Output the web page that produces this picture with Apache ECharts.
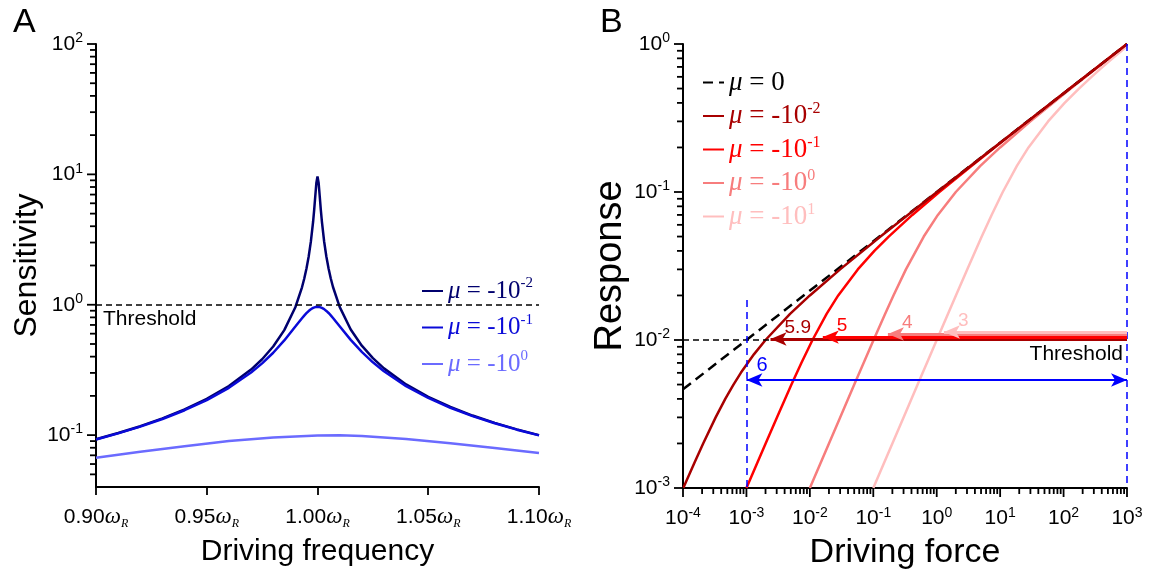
<!DOCTYPE html>
<html><head><meta charset="utf-8">
<script src="https://cdn.jsdelivr.net/npm/echarts@6/dist/echarts.min.js"></script>
<style>html,body{margin:0;padding:0;background:#fff}#c{width:1150px;height:575px}</style>
</head><body><div id="c"></div>
<script>
// ---------- Panel A data ----------
const freqA = [0.90,0.91,0.92,0.93,0.94,0.95,0.96,0.97,0.975,0.98,0.985,0.99,0.993,0.994,0.995,0.996,0.997,0.998,0.9985,0.999,0.9995,1.000,1.0005,1.001,1.0015,1.002,1.003,1.004,1.005,1.006,1.007,1.01,1.015,1.02,1.025,1.03,1.04,1.05,1.06,1.07,1.08,1.09,1.10];
const sensMuA2 = [0.0930,0.1037,0.1171,0.1343,0.1573,0.1895,0.2377,0.3180,0.3821,0.4784,0.6386,0.9567,1.361,1.584,1.889,2.336,3.049,4.311,5.35,6.824,8.63,9.65,8.63,6.824,5.35,4.316,3.055,2.343,1.896,1.59,1.368,0.9637,0.6453,0.4854,0.3893,0.3250,0.2447,0.1965,0.1643,0.1413,0.1241,0.1107,0.1000];
const sensMuA1 = [0.0925,0.1031,0.1162,0.1330,0.1552,0.1858,0.2307,0.3018,0.3550,0.4284,0.5325,0.6799,0.7885,0.8259,0.8614,0.8951,0.9234,0.9453,0.9533,0.9602,0.9638,0.9650,0.9638,0.9602,0.9543,0.9458,0.9253,0.8969,0.8649,0.8293,0.7920,0.6849,0.5380,0.4347,0.3617,0.3085,0.2374,0.1927,0.1621,0.1399,0.1232,0.1101,0.0995];
const freqA0 = [0.90,0.92,0.94,0.96,0.98,1.00,1.01,1.02,1.04,1.06,1.08,1.10];
const sensMuA0 = [0.0670,0.0745,0.0822,0.0900,0.0960,0.0993,0.0998,0.0985,0.0935,0.0868,0.0797,0.0728];
const thresholdA = 1;
const freqTicksA = [0.90,0.95,1.00,1.05,1.10];
const sensMajorTicksA = [0.1,1,10,100];
const sensMinorTicksA = [0.05,0.06,0.07,0.08,0.09,0.2,0.3,0.4,0.5,0.6,0.7,0.8,0.9,2,3,4,5,6,7,8,9,20,30,40,50,60,70,80,90];

// ---------- Panel B data ----------
const forceMu0 = [0.0001, 1000];
const respMu0  = [0.004642, 1];
const forceMuB2 = [0.000101,0.0001534,0.000208,0.000327,0.000464,0.000625,0.000816,0.001312,0.002,0.004875,0.01,0.03,0.13,1.01,8.02,125,1000];
const respMuB2  = [0.001,0.0015,0.002,0.003,0.004,0.005,0.006,0.008,0.01,0.015,0.02,0.03,0.05,0.1,0.2,0.5,1.0];
const forceMuB1 = [0.001001,0.001503,0.002008,0.003027,0.005125,0.007343,0.011,0.01838,0.028,0.057,0.104,0.175,0.413,1.1,3.525,8.2,27.3,125.5,343.7,1000];
const respMuB1  = [0.001,0.0015,0.002,0.003,0.005,0.007,0.01,0.015,0.02,0.03,0.04,0.05,0.07,0.1,0.15,0.2,0.3,0.5,0.7,0.9997];
const forceMuB0 = [0.0100,0.02001,0.03003,0.05013,0.07034,0.101,0.1534,0.208,0.327,0.625,1.043,2,4.875,10,30,130,350,1000];
const respMuB0  = [0.001,0.002,0.003,0.005,0.007,0.01,0.015,0.02,0.03,0.05,0.07,0.1,0.15,0.2,0.3,0.5,0.7,0.9967];
const forceMuBm1 = [0.1,0.2,0.3,0.5001,0.7003,1.001,1.503,2.008,3.027,5.125,7.343,11,18.375,28,57,104,175,276,413,592,819,1000];
const respMuBm1  = [0.001,0.002,0.003,0.005,0.007,0.01,0.015,0.02,0.03,0.05,0.07,0.1,0.15,0.2,0.3,0.4,0.5,0.6,0.7,0.8,0.9,0.9667];
const thresholdB = 0.01;
const arrowTips   = [0.0024, 0.016, 0.17, 1.3];
const arrowLevels = [0.01016, 0.01047, 0.01098, 0.01133];
const arrowLabels = ['5.9', '5', '4', '3'];
const rangeArrowLevel = 0.00537;
const rangeArrowEnds = [0.001, 1000];
const rangeLabel = '6';
const rangeLineTop = 0.0186;
const forceMajorExp = [-4,-3,-2,-1,0,1,2,3];
const respMajorExp = [-3,-2,-1,0];
const minorMult = [2,3,4,5,6,7,8,9];

// ---------- styling ----------
const cA = ['#00006e', '#0a0ad8', '#6b6bff'];
const cB = ['#000000', '#a80000', '#ff0000', '#f77d7d', '#ffbebe'];
const sans = 'Liberation Sans', serif = 'Liberation Serif';

const zip = (a, b) => a.map((v, i) => [v, b[i]]);

function powLabel(v) {
  const e = Math.log10(v), r = Math.round(e);
  if (Math.abs(e - r) > 1e-6) return '';
  return '{b|10}{s|' + r + '}';
}
const powRich = {
  b: {fontFamily: sans, fontSize: 21, lineHeight: 25, color: '#000'},
  s: {fontFamily: sans, fontSize: 14, lineHeight: 12, verticalAlign: 'top', color: '#000'}
};

function tickSeries(xi, yi, items, dir) {
  return {
    type: 'custom', xAxisIndex: xi, yAxisIndex: yi, silent: true, clip: false, z: 5,
    data: items, encode: {x: 0, y: 1},
    renderItem: function (params, api) {
      const p = api.coord([api.value(0), api.value(1)]);
      const len = api.value(2) ? 9 : 6;
      const shape = dir === 'left'
        ? {x1: p[0] - len, y1: p[1], x2: p[0], y2: p[1]}
        : {x1: p[0], y1: p[1], x2: p[0], y2: p[1] + len};
      return {type: 'line', shape: shape, style: {stroke: '#000', lineWidth: 1.8}};
    }
  };
}

const ticksAy = sensMajorTicksA.map(v => [freqTicksA[0], v, 1]).concat(sensMinorTicksA.map(v => [freqTicksA[0], v, 0]));
const ticksBy = [];
respMajorExp.forEach(e => ticksBy.push([1e-4, Math.pow(10, e), 1]));
respMajorExp.slice(0, -1).forEach(e => minorMult.forEach(m => ticksBy.push([1e-4, m * Math.pow(10, e), 0])));
const ticksBx = [];
forceMajorExp.forEach(e => ticksBx.push([Math.pow(10, e), 1e-3, 1]));
forceMajorExp.slice(0, -1).forEach(e => minorMult.forEach(m => ticksBx.push([m * Math.pow(10, e), 1e-3, 0])));

const legendNames = {
  A2: '{i|μ}{t| = -10}{s|-2}', A1: '{i|μ}{t| = -10}{s|-1}', A0: '{i|μ}{t| = -10}{s|0}',
  B0: '{i|μ}{t| = 0}', B2: '{i|μ}{t| = -10}{s|-2}', B1: '{i|μ}{t| = -10}{s|-1}',
  Bm0: '{i|μ}{t| = -10}{s|0}', Bm1: '{i|μ}{t| = -10}{s|1}'
};
function legendRich(size) {
  return {
    i: {fontFamily: serif, fontStyle: 'italic', fontSize: size, lineHeight: 30},
    t: {fontFamily: serif, fontSize: size, lineHeight: 30},
    s: {fontFamily: serif, fontSize: Math.round(size * 0.6), lineHeight: 13, verticalAlign: 'top'}
  };
}

const axisLineStyle = {show: true, lineStyle: {color: '#000', width: 2}};
const legendCommon = {
  orient: 'vertical', itemWidth: 21, itemHeight: 12, selectedMode: false,
  formatter: n => legendNames[n], itemStyle: {opacity: 0, borderWidth: 0}
};

const option = {
  animation: false,
  backgroundColor: '#fff',
  textStyle: {fontFamily: sans},
  title: [
    {text: 'A', left: 8, top: 1, textStyle: {fontFamily: sans, fontSize: 34, fontWeight: 'normal', color: '#000'}},
    {text: 'B', left: 595, top: 1, textStyle: {fontFamily: sans, fontSize: 34, fontWeight: 'normal', color: '#000'}}
  ],
  grid: [
    {left: 96, top: 44, width: 443, height: 443},
    {left: 683, top: 44, width: 444, height: 444}
  ],
  xAxis: [
    {type: 'value', gridIndex: 0, min: 0.9, max: 1.1, interval: 0.05,
     axisLine: axisLineStyle, splitLine: {show: false},
     axisTick: {show: true, inside: false, length: 8, lineStyle: {color: '#000', width: 1.8}},
     axisLabel: {margin: 17, color: '#000', formatter: v => '{b|' + v.toFixed(2) + '}{w|ω}{r|R}',
       rich: {b: {fontFamily: sans, fontSize: 21, lineHeight: 26, color: '#000'},
              w: {fontFamily: serif, fontStyle: 'italic', fontSize: 23, lineHeight: 26, color: '#000'},
              r: {fontFamily: serif, fontStyle: 'italic', fontSize: 12, lineHeight: 10, verticalAlign: 'bottom', color: '#000'}}},
     name: 'Driving frequency', nameLocation: 'middle', nameGap: 50,
     nameTextStyle: {fontFamily: sans, fontSize: 30, color: '#000'}},
    {type: 'log', gridIndex: 1, min: 1e-4, max: 1e3, logBase: 10,
     axisLine: axisLineStyle, splitLine: {show: false}, axisTick: {show: false},
     axisLabel: {margin: 18, formatter: powLabel, rich: powRich},
     name: 'Driving force', nameLocation: 'middle', nameGap: 48,
     nameTextStyle: {fontFamily: sans, fontSize: 34, color: '#000'}}
  ],
  yAxis: [
    {type: 'log', gridIndex: 0, min: 0.04, max: 100, logBase: 10,
     axisLine: axisLineStyle, splitLine: {show: false}, axisTick: {show: false},
     axisLabel: {margin: 13, formatter: powLabel, rich: powRich, showMinLabel: false},
     name: 'Sensitivity', nameLocation: 'middle', nameGap: 51, nameRotate: 90,
     nameTextStyle: {fontFamily: sans, fontSize: 32, color: '#000'}},
    {type: 'log', gridIndex: 1, min: 1e-3, max: 1, logBase: 10,
     axisLine: axisLineStyle, splitLine: {show: false}, axisTick: {show: false},
     axisLabel: {margin: 13, formatter: powLabel, rich: powRich},
     name: 'Response', nameLocation: 'middle', nameGap: 53, nameRotate: 90,
     nameTextStyle: {fontFamily: sans, fontSize: 38, color: '#000'}}
  ],
  legend: [
    Object.assign({}, legendCommon, {left: 416, top: 271, itemGap: 9,
     textStyle: {fontFamily: serif, fontSize: 25, rich: legendRich(25)},
     data: [{name: 'A2', textStyle: {color: cA[0]}}, {name: 'A1', textStyle: {color: cA[1]}}, {name: 'A0', textStyle: {color: cA[2]}}]}),
    Object.assign({}, legendCommon, {left: 697, top: 64, itemGap: 5,
     textStyle: {fontFamily: serif, fontSize: 27, rich: legendRich(27)},
     data: [{name: 'B0', textStyle: {color: cB[0]}}, {name: 'B2', textStyle: {color: cB[1]}}, {name: 'B1', textStyle: {color: cB[2]}},
            {name: 'Bm0', textStyle: {color: cB[3]}}, {name: 'Bm1', textStyle: {color: cB[4]}}]})
  ],
  series: [
    // Panel A
    {name: 'A0', type: 'line', xAxisIndex: 0, yAxisIndex: 0, symbol: 'none', data: zip(freqA0, sensMuA0),
     lineStyle: {color: cA[2], width: 2.5}, itemStyle: {color: cA[2]}, z: 2},
    {name: 'A1', type: 'line', xAxisIndex: 0, yAxisIndex: 0, symbol: 'none', data: zip(freqA, sensMuA1),
     lineStyle: {color: cA[1], width: 2.5}, itemStyle: {color: cA[1]}, z: 3},
    {name: 'A2', type: 'line', xAxisIndex: 0, yAxisIndex: 0, symbol: 'none', data: zip(freqA, sensMuA2),
     lineStyle: {color: cA[0], width: 2.5}, itemStyle: {color: cA[0]}, z: 2},
    {type: 'line', xAxisIndex: 0, yAxisIndex: 0, symbol: 'none', data: [], z: 4,
     markLine: {silent: true, symbol: 'none', animation: false,
       lineStyle: {color: '#000', width: 1.6, type: [6, 4]},
       label: {show: true, position: 'insideStartBottom', formatter: 'Threshold', color: '#000', fontFamily: sans, fontSize: 21, distance: [7, 4]},
       data: [[{coord: [freqTicksA[0], thresholdA]}, {coord: [freqTicksA[4], thresholdA]}]]}},
    tickSeries(0, 0, ticksAy, 'left'),
    // Panel B
    {name: 'Bm1', type: 'line', xAxisIndex: 1, yAxisIndex: 1, symbol: 'none', data: zip(forceMuBm1, respMuBm1),
     lineStyle: {color: cB[4], width: 2.5}, itemStyle: {color: cB[4]}, z: 2},
    {name: 'Bm0', type: 'line', xAxisIndex: 1, yAxisIndex: 1, symbol: 'none', data: zip(forceMuB0, respMuB0),
     lineStyle: {color: cB[3], width: 2.5}, itemStyle: {color: cB[3]}, z: 2},
    {name: 'B1', type: 'line', xAxisIndex: 1, yAxisIndex: 1, symbol: 'none', data: zip(forceMuB1, respMuB1),
     lineStyle: {color: cB[2], width: 2.5}, itemStyle: {color: cB[2]}, z: 2},
    {name: 'B0', type: 'line', xAxisIndex: 1, yAxisIndex: 1, symbol: 'none', data: zip(forceMu0, respMu0),
     lineStyle: {color: cB[0], width: 2.5, type: [10, 6]}, itemStyle: {color: cB[0]}, z: 2},
    {name: 'B2', type: 'line', xAxisIndex: 1, yAxisIndex: 1, symbol: 'none', data: zip(forceMuB2, respMuB2),
     lineStyle: {color: cB[1], width: 2.5}, itemStyle: {color: cB[1]}, z: 3},
    // threshold B
    {type: 'line', xAxisIndex: 1, yAxisIndex: 1, symbol: 'none', data: [], z: 4,
     markLine: {silent: true, symbol: 'none', animation: false,
       lineStyle: {color: '#000', width: 1.6, type: [6, 4]},
       label: {show: true, position: 'insideEndBottom', formatter: 'Threshold', color: '#000', fontFamily: sans, fontSize: 21, distance: [4, 4]},
       data: [[{coord: [1e-4, thresholdB]}, {coord: [1e3, thresholdB]}]]}},
    // blue dashed verticals + range arrow
    {type: 'line', xAxisIndex: 1, yAxisIndex: 1, symbol: 'none', data: [], z: 4,
     markLine: {silent: true, symbol: 'none', animation: false,
       lineStyle: {color: '#0000ff', width: 1.5, type: [7, 5]}, label: {show: false},
       data: [[{coord: [rangeArrowEnds[0], rangeLineTop]}, {coord: [rangeArrowEnds[0], 1e-3]}],
              [{coord: [rangeArrowEnds[1], 1]}, {coord: [rangeArrowEnds[1], 1e-3]}]]}},
    {type: 'line', xAxisIndex: 1, yAxisIndex: 1, symbol: 'none', data: [], z: 5,
     markLine: {silent: true, symbol: ['arrow', 'arrow'], symbolSize: [10, 16], animation: false,
       lineStyle: {color: '#0000ff', width: 1.8, type: 'solid'},
       label: {show: true, position: 'insideStartTop', formatter: rangeLabel, color: '#0000ff', fontFamily: sans, fontSize: 20, distance: [10, 4]},
       data: [[{coord: [rangeArrowEnds[0], rangeArrowLevel]}, {coord: [rangeArrowEnds[1], rangeArrowLevel]}]]}}
  ].concat(arrowTips.map((tip, k) => ({
     type: 'line', xAxisIndex: 1, yAxisIndex: 1, symbol: 'none', data: [], z: 6 - k * 0.1,
     markLine: {silent: true, symbol: ['arrow', 'none'], symbolSize: [10, 16], animation: false,
       lineStyle: {color: cB[k + 1], width: 3, type: 'solid'},
       label: {show: true, position: 'insideStartTop', formatter: arrowLabels[k], color: cB[k + 1], fontFamily: sans, fontSize: 19, distance: [14, 2]},
       data: [[{coord: [tip, arrowLevels[k]]}, {coord: [1e3, arrowLevels[k]]}]]}
  }))).concat([
    tickSeries(1, 1, ticksBy, 'left'),
    tickSeries(1, 1, ticksBx, 'down')
  ])
};

const chart = echarts.init(document.getElementById('c'), null, {renderer: 'canvas'});
chart.setOption(option);
</script>
</body></html>
